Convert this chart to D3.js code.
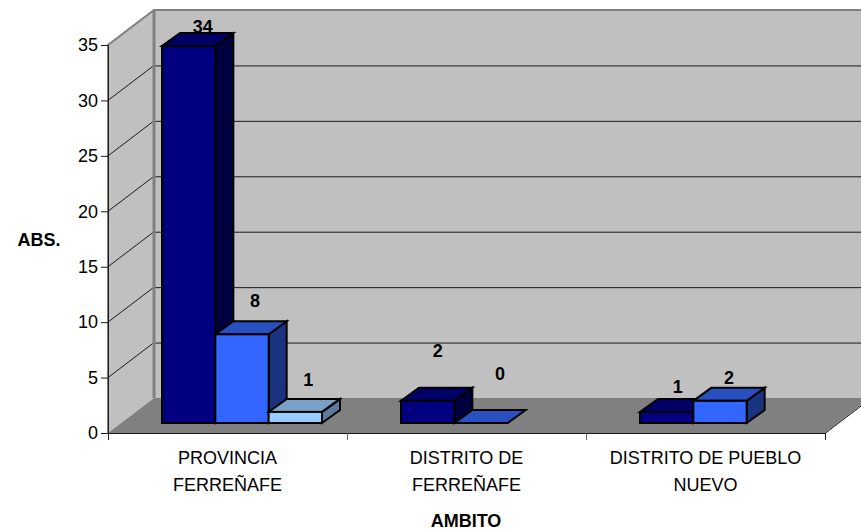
<!DOCTYPE html>
<html>
<head>
<meta charset="utf-8">
<script src="https://cdn.jsdelivr.net/npm/d3@7/dist/d3.min.js"></script>
<style>
html,body{margin:0;padding:0;background:#fff}
svg{display:block}
text{font-family:"Liberation Sans",Arial,sans-serif;fill:#000}
</style>
</head>
<body>
<svg id="chart" width="861" height="531"></svg>
<script>
// Chart data
const categories = ["PROVINCIA FERREÑAFE", "DISTRITO DE FERREÑAFE", "DISTRITO DE PUEBLO NUEVO"];
const categoryLines = [["PROVINCIA", "FERREÑAFE"], ["DISTRITO DE", "FERREÑAFE"], ["DISTRITO DE PUEBLO", "NUEVO"]];
const seriesA = [34, 2, 1];
const seriesB = [8, 0, 2];
const seriesC = [1, null, null];
const yTicks = [0, 5, 10, 15, 20, 25, 30, 35];
const axisTitleX = "AMBITO";
const axisTitleY = "ABS.";

// Layout and oblique projection
const W = 861, H = 531;
const plot = {left: 108, right: 825, bottom: 433, top: 45};
const depth = {x: 46, y: -35};      // full depth of the floor
const barInset = {x: 10, y: -10};   // front of the bars relative to the front plane
const barDepth = {x: 18, y: -13};

const y = d3.scaleLinear().domain([0, 35]).range([plot.bottom, plot.top]);
const x = d3.scaleBand().domain(categories).range([plot.left, plot.right]);
const bx = d3.scaleBand().domain([0, 1, 2]).range([0, 160]);

const palette = [
  {front: "#000080", top: "#000066", side: "#00003f"},
  {front: "#3366ff", top: "#2850c0", side: "#1a3380"},
  {front: "#99ccff", top: "#7aa0c8", side: "#5c7a9c"}
];
// Hand placement of each value label relative to its bar's top centre
const labelShift = [
  [[14, -20], [13, -34], [13, -32]],
  [[10, -50], [19, -50], null],
  [[11, -25], [9, -23], null]
];

const svg = d3.select("#chart");
const pts = a => a.map(p => p.join(",")).join(" ");

// Clip the plot box to the window
const lineColor = "#1a1a1a";
const wallGray = "#c0c0c0", floorGray = "#808080";
const y0 = plot.bottom, x0 = plot.left, x1 = plot.right, yT = plot.top;
const dx = depth.x, dy = depth.y;

// Back and side walls
svg.append("polygon").attr("points", pts([[x0 + dx, yT + dy], [x1 + dx, yT + dy], [x1 + dx, y0 + dy], [x0 + dx, y0 + dy]])).attr("fill", wallGray);
svg.append("polygon").attr("points", pts([[x0, yT], [x0 + dx, yT + dy], [x0 + dx, y0 + dy], [x0, y0]])).attr("fill", wallGray);
// Floor
svg.append("polygon").attr("points", pts([[x0, y0], [x1, y0], [x1 + dx, y0 + dy], [x0 + dx, y0 + dy]])).attr("fill", floorGray);

// Gridlines across both walls
yTicks.slice(1, -1).forEach(t => {
  const v = y(t);
  svg.append("line").attr("x1", x0).attr("y1", v).attr("x2", x0 + dx).attr("y2", v + dy)
     .attr("stroke", lineColor).attr("stroke-width", 1);
  svg.append("line").attr("x1", x0 + dx).attr("y1", v + dy + 0.5).attr("x2", x1 + dx).attr("y2", v + dy + 0.5)
     .attr("stroke", lineColor).attr("stroke-width", 1);
});

// Wall outline
svg.append("polyline").attr("points", pts([[x0, y0], [x0, yT], [x0 + dx, yT + dy], [x1 + dx, yT + dy]]))
   .attr("fill", "none").attr("stroke", "#808080").attr("stroke-width", 2);
svg.append("line").attr("x1", x0 + dx).attr("y1", yT + dy).attr("x2", x0 + dx).attr("y2", y0 + dy)
   .attr("stroke", "#808080").attr("stroke-width", 3);

// Front and right edges of the floor
svg.append("polyline").attr("points", pts([[x0, y0 + 0.5], [x1, y0 + 0.5], [x1 + dx, y0 + dy + 0.5]]))
   .attr("fill", "none").attr("stroke", lineColor).attr("stroke-width", 1);

// Value axis
const yAxis = d3.axisLeft(y).tickValues(yTicks).tickSize(7).tickPadding(3);
const gy = svg.append("g").attr("transform", `translate(${x0},0)`).call(yAxis);
gy.select(".domain").attr("stroke", lineColor).attr("stroke-width", 1);
gy.selectAll(".tick line").attr("stroke", lineColor);
gy.selectAll(".tick text").attr("font-size", 18).attr("font-family", '"Liberation Sans",Arial,sans-serif');

// Category axis
const gx = svg.append("g");
d3.range(categories.length + 1).forEach(i => {
  const px = i < categories.length ? x(categories[i]) : plot.right;
  gx.append("line").attr("x1", px + 0.5).attr("x2", px + 0.5).attr("y1", y0).attr("y2", y0 + 7)
    .attr("stroke", i === 0 || i === categories.length ? lineColor : "#666");
});
categories.forEach((c, i) => {
  const t = gx.append("text").attr("text-anchor", "middle").attr("font-size", 18)
    .attr("x", x(c) + x.bandwidth() / 2).attr("y", 464);
  categoryLines[i].forEach((ln, j) => {
    t.append("tspan").attr("x", x(c) + x.bandwidth() / 2).attr("dy", j ? 27 : 0).text(ln);
  });
});

const seriesList = [seriesA, seriesB, seriesC];

// Value labels sit behind the bars
categories.forEach((c, i) => {
  seriesList.forEach((s, k) => {
    const v = s[i];
    if (v === null) return;
    const left = x(c) + 54 + bx(k);
    const cx = left + bx.bandwidth() / 2;
    const topY = y(v) + barInset.y;
    const sh = labelShift[i][k];
    svg.append("text").attr("x", cx + sh[0]).attr("y", topY + sh[1] + 6.5)
       .attr("text-anchor", "middle").attr("font-size", 18).attr("font-weight", "bold").text(v);
  });
});

// Bars, extruded toward the back wall
categories.forEach((c, i) => {
  seriesList.forEach((s, k) => {
    const v = s[i];
    if (v === null) return;
    const col = palette[k];
    const l = x(c) + 54 + bx(k), r = l + bx.bandwidth();
    const b = y(0) + barInset.y, t = y(v) + barInset.y;
    const g = svg.append("g").attr("stroke", "#000").attr("stroke-width", 2).attr("stroke-linejoin", "miter");
    if (v > 0) {
      g.append("polygon").attr("points", pts([[r, b], [r + barDepth.x, b + barDepth.y], [r + barDepth.x, t + barDepth.y], [r, t]])).attr("fill", col.side);
    }
    g.append("polygon").attr("points", pts([[l, t], [r, t], [r + barDepth.x, t + barDepth.y], [l + barDepth.x, t + barDepth.y]])).attr("fill", col.top);
    if (v > 0) {
      g.append("rect").attr("x", l).attr("y", t).attr("width", r - l).attr("height", b - t).attr("fill", col.front);
    }
  });
});

// Axis titles
svg.append("text").attr("x", 39).attr("y", 246).attr("text-anchor", "middle")
   .attr("font-size", 18).attr("font-weight", "bold").text(axisTitleY);
svg.append("text").attr("x", 466).attr("y", 527).attr("text-anchor", "middle")
   .attr("font-size", 18).attr("font-weight", "bold").text(axisTitleX);
</script>
</body>
</html>
